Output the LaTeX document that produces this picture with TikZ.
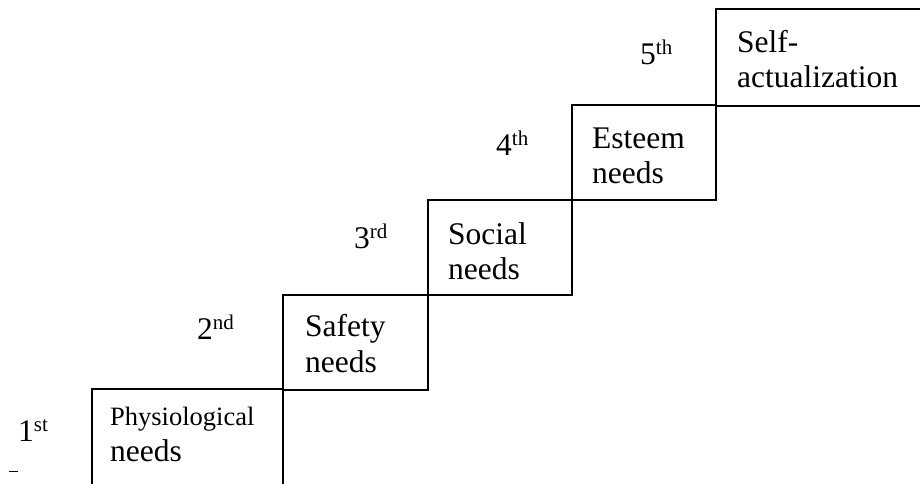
\documentclass[tikz,border=0pt]{standalone}
\usepackage{fontspec}
\setmainfont{Liberation Serif}
\newcommand\ordlab[2]{#1\raisebox{10pt}{\fontsize{21}{21}\selectfont #2}}
\begin{document}
\begin{tikzpicture}[x=1pt,y=1pt,
  box/.style={draw, line width=1.6pt, inner sep=0pt, outer sep=0pt, anchor=north west},
  txt/.style={anchor=base west, inner sep=0pt, font=\fontsize{31.5}{35}\selectfont},
  smalltxt/.style={anchor=base west, inner sep=0pt, font=\fontsize{26.5}{30}\selectfont},
  ordtxt/.style={anchor=base west, inner sep=0pt, font=\fontsize{31.5}{35}\selectfont}]
\useasboundingbox (0,0) rectangle (920,-484);
\clip (0,0) rectangle (920,-484);
% boxes
\node[box, minimum width=191pt, minimum height=130pt] (b1) at (92,-389) {};
\node[box, minimum width=145pt, minimum height=95pt] (b2) at (283,-295) {};
\node[box, minimum width=144pt, minimum height=95pt] (b3) at (428,-200) {};
\node[box, minimum width=144pt, minimum height=95pt] (b4) at (572,-105) {};
\node[box, minimum width=260pt, minimum height=97pt] (b5) at (716,-9) {};
% box texts
\node[smalltxt] (t1a) at (110,-425) {Physiological};
\node[txt] (t1b) at (110,-461) {needs};
\node[txt] (t2a) at (305,-336) {Safety};
\node[txt] (t2b) at (305,-372) {needs};
\node[txt] (t3a) at (448,-244) {Social};
\node[txt] (t3b) at (448,-279) {needs};
\node[txt] (t4a) at (592,-148) {Esteem};
\node[txt] (t4b) at (592,-183) {needs};
\node[txt] (t5a) at (737,-53) {Self-};
\node[txt] (t5b) at (737,-88) {actualization};
% ordinals
\node[ordtxt] (o1) at (18,-441) {\ordlab{1}{st}};
\node[ordtxt] (o2) at (197,-339) {\ordlab{2}{nd}};
\node[ordtxt] (o3) at (354,-248) {\ordlab{3}{rd}};
\node[ordtxt] (o4) at (496,-155) {\ordlab{4}{th}};
\node[ordtxt] (o5) at (640,-65) {\ordlab{5}{th}};
% stray dash
\coordinate (d1) at (9,-471);
\coordinate (d2) at (18,-471);
\draw[line width=0.8pt] (d1) -- (d2);
\end{tikzpicture}
\end{document}
